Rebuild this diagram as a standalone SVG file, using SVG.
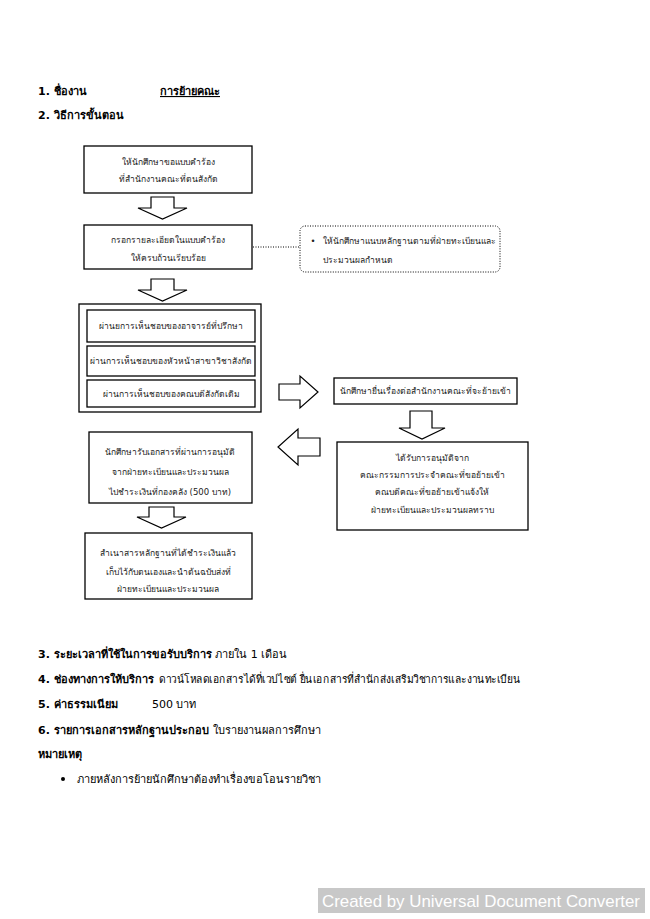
<svg xmlns="http://www.w3.org/2000/svg" width="650" height="919" viewBox="0 0 650 919">
<style>
.t{font-family:"DejaVu Sans","Noto Sans",Tahoma,sans-serif;font-size:11px;fill:#000}
.b{font-weight:bold}
.s{font-family:"DejaVu Sans","Noto Sans",Tahoma,sans-serif;font-size:8.5px;fill:#222;text-anchor:middle}
.box{fill:#fff;stroke:#000;stroke-width:1.3}
.arr{fill:#fff;stroke:#000;stroke-width:1.2;stroke-linejoin:miter}
</style>
<rect width="650" height="919" fill="#fff"/>
<g id="header">
<text class="t b" x="38" y="95">1. ชื่องาน</text>
<text class="t b" x="160" y="95" text-decoration="underline">การย้ายคณะ</text>
<text class="t b" x="38" y="119">2. วิธีการขั้นตอน</text>
</g>
<g id="connectors">
<polygon class="arr" points="151,197 174,197 174,208 187,208 162.5,219 138,208 151,208"/>
<polygon class="arr" points="151,279 174,279 174,290 187,290 162.5,301 138,290 151,290"/>
<polygon class="arr" points="149,507 174,507 174,517 186,517 161.5,528 137,517 149,517"/>
<polygon class="arr" points="279,384 300,384 300,376 318,392 300,408 300,400 279,400"/>
<polygon class="arr" points="320,438 298,438 298,429 278,447 298,465 298,456 320,456"/>
<polygon class="arr" points="410,411 432,411 432,428 445,428 422,439 399,428 410,428"/>
<line x1="253" y1="247" x2="300" y2="247" stroke="#000" stroke-width="1" stroke-dasharray="1,1.5"/>
</g>
<g id="n1">
<rect class="box" x="84" y="146" width="168" height="47"/>
<text class="s" x="168" y="165">ให้นักศึกษาขอแบบคำร้อง</text>
<text class="s" x="168" y="182">ที่สำนักงานคณะที่ตนสังกัด</text>
</g>
<g id="n2">
<rect class="box" x="84" y="225" width="168" height="44"/>
<text class="s" x="168" y="243">กรอกรายละเอียดในแบบคำร้อง</text>
<text class="s" x="168" y="261">ให้ครบถ้วนเรียบร้อย</text>
</g>
<g id="note">
<rect x="300" y="226" width="200" height="46" rx="5" fill="#fff" stroke="#000" stroke-width="1" stroke-dasharray="1,1.5"/>
<text class="s" x="313" y="244">•</text>
<text class="s" x="323" y="244" style="text-anchor:start">ให้นักศึกษาแนบหลักฐานตามที่ฝ่ายทะเบียนและ</text>
<text class="s" x="323" y="263" style="text-anchor:start">ประมวนผลกำหนด</text>
</g>
<g id="group">
<rect class="box" x="79" y="304" width="182" height="108"/>
<rect class="box" x="87" y="310" width="168" height="32"/>
<text class="s" x="171" y="329">ผ่านยการเห็นชอบของอาจารย์ที่ปรึกษา</text>
<rect class="box" x="87" y="346" width="168" height="30"/>
<text class="s" x="171" y="364">ผ่านการเห็นชอบของหัวหน้าสาขาวิชาสังกัด</text>
<rect class="box" x="87" y="380" width="168" height="27"/>
<text class="s" x="171" y="397">ผ่านการเห็นชอบของคณบดีสังกัดเดิม</text>
</g>
<g id="n4">
<rect class="box" x="334" y="378" width="183" height="26"/>
<text class="s" x="425" y="394">นักศึกษายื่นเรื่องต่อสำนักงานคณะที่จะย้ายเข้า</text>
</g>
<g id="n5">
<rect class="box" x="337" y="442" width="191" height="88"/>
<text class="s" x="432" y="461">ได้รับการอนุมัติจาก</text>
<text class="s" x="432" y="478">คณะกรรมการประจำคณะที่ขอย้ายเข้า</text>
<text class="s" x="432" y="495">คณบดีคณะที่ขอย้ายเข้าแจ้งให้</text>
<text class="s" x="432" y="513">ฝ่ายทะเบียนและประมวนผลทราบ</text>
</g>
<g id="n6">
<rect class="box" x="89" y="432" width="163" height="71"/>
<text class="s" x="170" y="455">นักศึกษารับเอกสารที่ผ่านการอนุมัติ</text>
<text class="s" x="170" y="475">จากฝ่ายทะเบียนและประมวนผล</text>
<text class="s" x="170" y="495">ไปชำระเงินที่กองคลัง (500 บาท)</text>
</g>
<g id="n7">
<rect class="box" x="85" y="533" width="167" height="66"/>
<text class="s" x="168" y="556">สำเนาสารหลักฐานที่ได้ชำระเงินแล้ว</text>
<text class="s" x="168" y="575">เก็บไว้กับตนเองและนำต้นฉบับส่งที่</text>
<text class="s" x="168" y="592">ฝ่ายทะเบียนและประมวนผล</text>
</g>
<g id="footer">
<text class="t" x="38" y="658"><tspan class="b">3. ระยะเวลาที่ใช้ในการขอรับบริการ</tspan> ภายใน 1 เดือน</text>
<text class="t b" x="38" y="683">4. ช่องทางการให้บริการ</text>
<text class="t" x="159" y="683" textLength="361" lengthAdjust="spacingAndGlyphs">ดาวน์โหลดเอกสารได้ที่เวปไซต์ ยื่นเอกสารที่สำนักส่งเสริมวิชาการและงานทะเบียน</text>
<text class="t b" x="38" y="708">5. ค่าธรรมเนียม</text>
<text class="t" x="152" y="708">500 บาท</text>
<text class="t b" x="38" y="734">6. รายการเอกสารหลักฐานประกอบ</text>
<text class="t" x="213" y="734">ใบรายงานผลการศึกษา</text>
<text class="t b" x="38" y="758">หมายเหตุ</text>
<circle cx="63" cy="779" r="2"/>
<text class="t" x="77" y="783">ภายหลังการย้ายนักศึกษาต้องทำเรื่องขอโอนรายวิชา</text>
</g>
<g id="watermark">
<rect x="318" y="888" width="327" height="25" fill="#c8c8c8"/>
<text x="322" y="907" textLength="318" lengthAdjust="spacingAndGlyphs" style="font-family:'Liberation Sans',Arial,sans-serif;font-size:17px;fill:#fff">Created by Universal Document Converter</text>
</g>
</svg>
